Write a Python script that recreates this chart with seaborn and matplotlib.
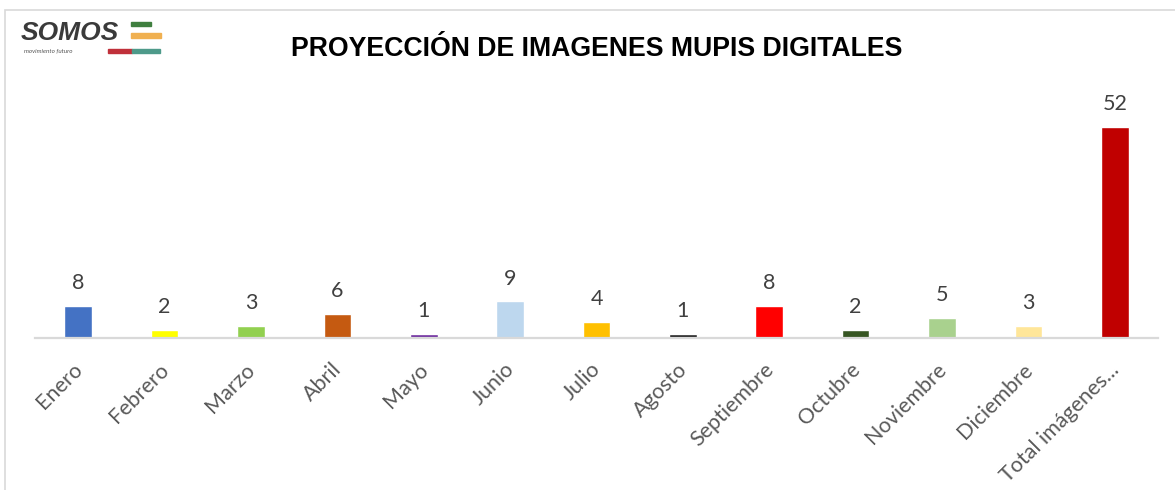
import matplotlib
matplotlib.use('Agg')
import matplotlib.pyplot as plt
import matplotlib.transforms as mtransforms
import seaborn as sns
import pandas as pd
from matplotlib.patches import Rectangle

# Data
meses = ['Enero', 'Febrero', 'Marzo', 'Abril', 'Mayo', 'Junio', 'Julio',
         'Agosto', 'Septiembre', 'Octubre', 'Noviembre', 'Diciembre',
         'Total imágenes...']
imagenes = [8, 2, 3, 6, 1, 9, 4, 1, 8, 2, 5, 3, 52]
colores = ['#4472C4', '#FFFF00', '#92D050', '#C55A11', '#7030A0', '#BDD7EE',
           '#FFC000', '#262626', '#FF0000', '#375623', '#A9D18E', '#FFE699',
           '#C00000']

df = pd.DataFrame({'mes': meses, 'imagenes': imagenes})

sns.set_style('white')
plt.rcParams['font.family'] = ['Lato', 'DejaVu Sans']

fig = plt.figure(figsize=(11.75, 4.9), dpi=100)
ax = fig.add_axes([35 / 1175, 1 - 338 / 490, 1123 / 1175, 60 * 4.06 / 490])

sns.barplot(data=df, x='mes', y='imagenes', hue='mes', palette=colores,
            legend=False, width=0.32, saturation=1, ax=ax)

ax.set_ylim(0, 60)
ax.set_xlim(-0.5, len(meses) - 0.5)
ax.set_xlabel('')
ax.set_ylabel('')
ax.set_yticks([])
for s in ['top', 'right', 'left']:
    ax.spines[s].set_visible(False)
ax.spines['bottom'].set_color('#D9D9D9')
ax.spines['bottom'].set_linewidth(1.6)
ax.tick_params(axis='x', length=0, pad=6)
ax.set_xticks(range(len(meses)))
ax.set_xticklabels(meses, rotation=45, ha='right', va='top',
                   rotation_mode='anchor', fontsize=15.5, color='#595959')
# move labels a bit down/left like the original
offset = mtransforms.ScaledTranslation(-6 / 100, -13 / 100, fig.dpi_scale_trans)
for lbl in ax.get_xticklabels():
    lbl.set_transform(lbl.get_transform() + offset)

for i, v in enumerate(imagenes):
    ax.annotate(str(v), (i, v), xytext=(0, 9), textcoords='offset points',
                ha='center', va='bottom', fontsize=15.5, color='#404040')

fig.text(597 / 1175, 1 - 49 / 490, 'PROYECCIÓN DE IMAGENES MUPIS DIGITALES',
         ha='center', va='center', fontsize=19.2, fontweight='bold',
         family=['Liberation Sans', 'DejaVu Sans'], color='black')

# Logo SOMOS
fig.text(21 / 1175, 1 - 33 / 490, 'SOMOS', ha='left', va='center',
         fontsize=19, fontstyle='italic', fontweight='bold', color='#3A3A3A',
         family=['Liberation Sans', 'DejaVu Sans'])
fig.text(24 / 1175, 1 - 51 / 490, 'movimiento futuro', ha='left', va='center',
         fontsize=4.5, fontstyle='italic', color='#555555')
for (x0, y0, w, h, c) in [(131, 22, 20, 4, '#3F7F3F'), (131, 33, 30, 5, '#F0B050'),
                          (108, 49, 24, 4, '#C0303A'), (132, 49, 28, 4, '#4E9A8A')]:
    fig.patches.append(Rectangle((x0 / 1175, 1 - (y0 + h) / 490), w / 1175, h / 490,
                                 transform=fig.transFigure, color=c, zorder=3))

# Chart border
fig.patches.append(Rectangle((5 / 1175, -0.05), 1.1, 1.05 - 10 / 490,
                             transform=fig.transFigure, fill=False,
                             edgecolor='#D9D9D9', linewidth=1.2))

fig.savefig('out.png', dpi=100)
